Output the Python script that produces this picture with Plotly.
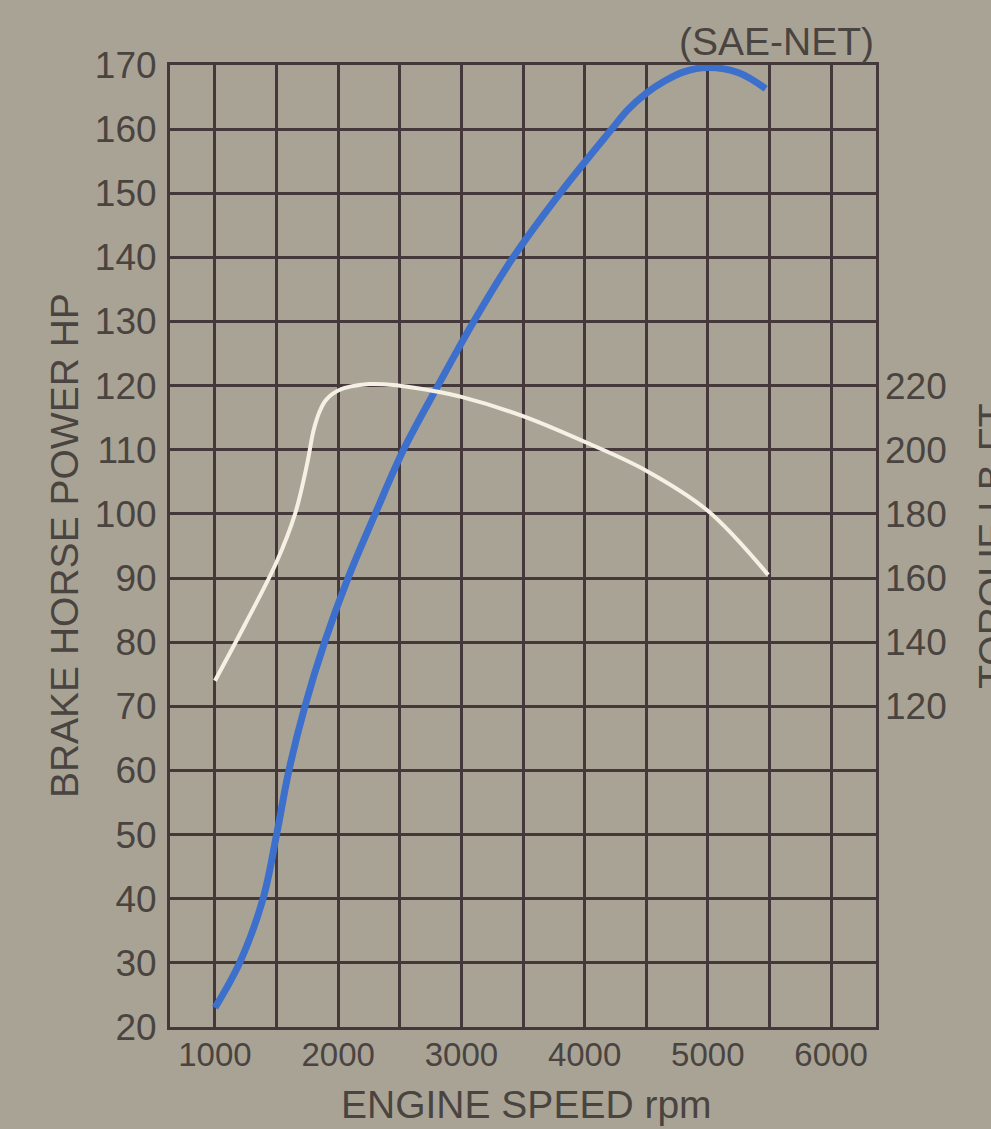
import plotly.graph_objects as go

# --- data ---
power_rpm = [1000, 1200, 1390, 1500, 1600, 1730, 1890, 2080, 2300, 2530, 2810, 3100,
             3420, 3800, 4220, 4350, 4500, 4650, 4800, 5000, 5250, 5470]
power_hp = [23, 30, 40, 50, 60, 70, 80, 90, 100, 110, 120, 130,
            140, 150, 160, 163, 165.6, 167.5, 168.9, 169.6, 168.8, 166.3]

torque_rpm = [1000, 1250, 1500, 1650, 1750, 1800, 1850, 1900, 2000, 2250, 2500,
              2750, 3000, 3500, 4000, 4500, 5000, 5490]
torque_lbft = [128, 146, 165, 180, 196, 206, 212, 215.5, 218.5, 220.5, 220,
               218.5, 216.5, 210.5, 202.5, 193.5, 181, 161]

x_tick_vals = [1000, 1500, 2000, 2500, 3000, 3500, 4000, 4500, 5000, 5500, 6000]
x_tick_text = ["1000", "", "2000", "", "3000", "", "4000", "", "5000", "", "6000"]
hp_ticks = list(range(20, 171, 10))
torque_ticks = [120, 140, 160, 180, 200, 220]

BG = "#a9a395"
GRID = "#45383a"
TXT = "#4a4441"
FONT = "Liberation Sans, Arial, sans-serif"

fig = go.Figure()
fig.add_trace(go.Scatter(x=torque_rpm, y=torque_lbft, yaxis="y2", mode="lines",
                         line=dict(color="#f4f1e4", width=4, shape="spline", smoothing=1.0),
                         showlegend=False, hoverinfo="skip"))
fig.add_trace(go.Scatter(x=power_rpm, y=power_hp, mode="lines",
                         line=dict(color="#3d6fcc", width=7, shape="spline", smoothing=1.0),
                         showlegend=False, hoverinfo="skip"))

fig.update_layout(
    width=991, height=1129,
    margin=dict(l=170, r=115, t=65, b=102),
    paper_bgcolor=BG, plot_bgcolor=BG,
    font=dict(family=FONT, color=TXT),
    xaxis=dict(range=[635, 6365], tickvals=x_tick_vals, ticktext=x_tick_text,
               showgrid=True, gridcolor=GRID, gridwidth=3, zeroline=False,
               showline=True, linecolor=GRID, linewidth=3, mirror=True,
               ticks="", tickfont=dict(size=33, color=TXT), ticklabelstandoff=-4),
    yaxis=dict(range=[20, 170], tickvals=hp_ticks,
               showgrid=True, gridcolor=GRID, gridwidth=3, zeroline=False,
               showline=True, linecolor=GRID, linewidth=3, mirror=True,
               ticks="", tickfont=dict(size=37, color=TXT), ticklabelstandoff=3),
    yaxis2=dict(range=[20, 320], tickvals=torque_ticks, overlaying="y", side="right",
                showgrid=False, zeroline=False, showline=False,
                ticks="", tickfont=dict(size=37, color=TXT), ticklabelstandoff=8),
    annotations=[
        dict(text="ENGINE SPEED rpm", xref="paper", yref="paper", x=0.505, y=-0.081,
             xanchor="center", yanchor="middle", showarrow=False,
             font=dict(size=39, color=TXT)),
        dict(text="BRAKE HORSE POWER HP", xref="paper", yref="paper", x=-0.15, y=0.5,
             xanchor="center", yanchor="middle", textangle=-90, showarrow=False,
             font=dict(size=39, color=TXT)),
        dict(text="TORQUE LB-FT", xref="paper", yref="paper", x=1.164, y=0.5,
             xanchor="center", yanchor="middle", textangle=-90, showarrow=False,
             font=dict(size=39, color=TXT)),
        dict(text="(SAE-NET)", xref="paper", yref="paper", x=1.0, y=1.0,
             xanchor="right", yanchor="bottom", yshift=0, showarrow=False,
             font=dict(size=39, color=TXT)),
    ],
)

fig.write_html(
    "out.html",
    config={"displayModeBar": False},
    post_script="document.body.style.margin='0';document.body.style.overflow='hidden';"
                "document.body.style.background='" + BG + "';",
)
